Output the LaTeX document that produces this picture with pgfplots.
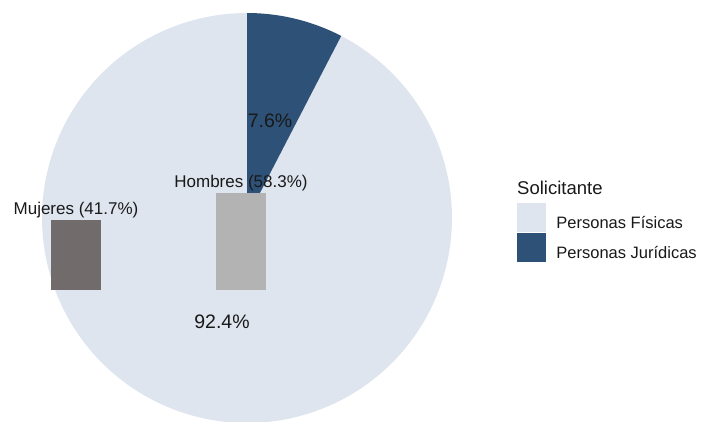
\documentclass[border=0pt]{standalone}
\usepackage{pgfplots}
\pgfplotsset{compat=1.18}
\usepgfplotslibrary{polar}
\usepackage{fontspec}
\setmainfont{Liberation Sans}
\definecolor{pflight}{HTML}{DEE5EF}
\definecolor{pjdark}{HTML}{2E5177}
\definecolor{mujcol}{HTML}{716B6B}
\definecolor{homcol}{HTML}{B3B3B3}
\def\pj{7.6}
\def\pf{92.4}
\pgfmathsetmacro{\pjstart}{90-3.6*\pj}
\pgfmathsetmacro{\pfend}{90+3.6*\pf}
\begin{document}
\begin{tikzpicture}
% pie axis (units = pt, origin at pie centre)
\begin{axis}[at={(0,0)}, anchor=south west, scale only axis,
  width=702pt, height=421pt,
  xmin=-247, xmax=455, ymin=-203, ymax=218,
  hide axis, clip=true]
\addplot[fill=pflight, draw=none, data cs=polar, domain=90:\pfend, samples=181] {205} -- (axis cs:0,0) -- cycle;
\addplot[fill=pjdark, draw=none, data cs=polar, domain=\pjstart:90, samples=31] {205} -- (axis cs:0,0) -- cycle;
\end{axis}
% bar axis (y in percent)
\begin{axis}[at={(0,0)}, anchor=south west, scale only axis,
  width=702pt, height=421pt,
  xmin=0, xmax=702, ymin=-78.0, ymax=173.3,
  hide axis, clip=false,
  legend style={at={(rel axis cs:0.7365,0.5178)}, anchor=north west,
    draw=none, fill=none, inner sep=0pt, outer sep=0pt,
    row sep=2pt, column sep=11pt,
    nodes={inner sep=0pt, font=\fontsize{16.5}{19}\selectfont, text=black!90}},
  legend cell align=left]
\addlegendimage{legend image code/.code={\fill[pflight] (0pt,-8pt) rectangle (28pt,20pt);}}
\addlegendentry{Personas Físicas}
\addlegendimage{legend image code/.code={\fill[pjdark] (0pt,-8pt) rectangle (28pt,20pt);}}
\addlegendentry{Personas Jurídicas}
\addplot[ybar, bar width=50, bar shift=0pt, fill=mujcol, draw=none, forget plot] coordinates {(76,41.7)};
\addplot[ybar, bar width=50, bar shift=0pt, fill=homcol, draw=none, forget plot] coordinates {(241,58.3)};
\node[anchor=base, yshift=6pt, font=\fontsize{17}{20}\selectfont, text=black!90] at (axis cs:76,41.7) {Mujeres (41.7\%)};
\node[anchor=base, yshift=5pt, font=\fontsize{17}{20}\selectfont, text=black!90] at (axis cs:241,58.3) {Hombres (58.3\%)};
\node[anchor=west, inner sep=0pt, font=\fontsize{18.5}{22}\selectfont, text=black!90] at (rel axis cs:0.7365,0.5534) {Solicitante};
\end{axis}
% percentage labels in pie axis coordinates
\begin{axis}[at={(0,0)}, anchor=south west, scale only axis,
  width=702pt, height=421pt,
  xmin=-247, xmax=455, ymin=-203, ymax=218,
  hide axis, clip=false]
\node[font=\fontsize{19.5}{23}\selectfont, text=black!90] at (axis cs:23,97) {7.6\%};
\node[font=\fontsize{19.5}{23}\selectfont, text=black!90] at (axis cs:-25,-104) {92.4\%};
\end{axis}
\pgfresetboundingbox
\path (0,0) rectangle (702pt,421pt);
\end{tikzpicture}
\end{document}
